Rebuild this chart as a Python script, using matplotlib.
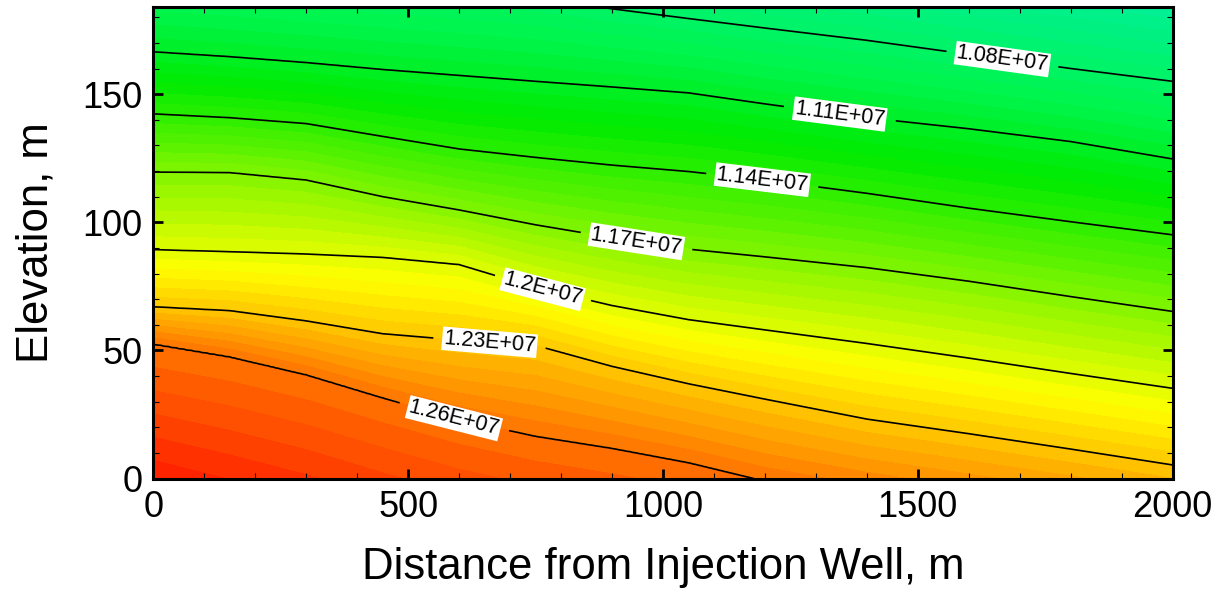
import numpy as np
import matplotlib.pyplot as plt
from matplotlib.colors import LinearSegmentedColormap, Normalize
from matplotlib.ticker import MultipleLocator

# distance stations (m) where the isobar elevations were picked
stations = [0, 150, 300, 450, 600, 750, 900, 1050, 1200, 1400, 1600, 1800, 2000]

# elevation (m) of each pressure isoline at the stations
p105 = [228, 226, 224, 222, 220, 217, 214, 210, 206, 201, 195, 190, 184]
p108 = [198, 196, 194, 192, 190, 187.5, 183.3, 179.5, 175.8, 171, 165.5, 160, 155]
p111 = [166.5, 164.6, 162.3, 159.6, 157.3, 155, 152.8, 150.5, 146.2, 140.8, 136.5, 131.5, 124.7]
p114 = [142.3, 140.8, 138.5, 133.5, 128.6, 125.3, 122.3, 119.8, 116.5, 111.3, 105.5, 100.2, 95.1]
p117 = [119.6, 119.4, 116.5, 110, 104.8, 99, 94, 89.5, 86.5, 82.3, 77, 71, 65.2]
p120 = [89.3, 88.5, 87.6, 86.3, 83.5, 74.5, 67.5, 62, 58, 52.7, 47, 41, 35.2]
p123 = [67, 65.5, 61.5, 56.5, 54, 52, 43.8, 37, 31, 23.2, 17.5, 11.5, 5.3]
p126 = [52.5, 47.5, 40.5, 31.5, 23, 16.5, 11.8, 6.2, -1, -8, -14, -20, -26]
p129 = [-2, -10, -18, -27, -35, -42, -48, -54, -60, -66, -72, -78, -84]

pressures = [1.05e7, 1.08e7, 1.11e7, 1.14e7, 1.17e7, 1.20e7, 1.23e7, 1.26e7, 1.29e7]
elevations = [p105, p108, p111, p114, p117, p120, p123, p126, p129]

# labelled contour levels and where along x their labels sit
line_levels = [1.08e7, 1.11e7, 1.14e7, 1.17e7, 1.20e7, 1.23e7, 1.26e7]
label_x = [1666, 1347, 1195, 948, 764, 660, 590]

# colour stops (pressure, rgb)
cmap_p = [1.05e7, 1.095e7, 1.125e7, 1.17e7, 1.21e7, 1.25e7, 1.29e7]
cmap_rgb = [(0, 240, 150), (0, 245, 75), (0, 235, 0), (130, 245, 0),
            (255, 255, 0), (255, 145, 0), (255, 30, 0)]

vmin, vmax = cmap_p[0], cmap_p[-1]
cmap = LinearSegmentedColormap.from_list(
    'pressure',
    [((p - vmin) / (vmax - vmin), tuple(c / 255 for c in rgb)) for p, rgb in zip(cmap_p, cmap_rgb)])

# build the pressure field column by column from the isoline elevations
xf = np.linspace(0, 2000, 401)
yf = np.linspace(0, 184, 369)
E = np.array([np.interp(xf, stations, e) for e in elevations])
P = np.empty((len(yf), len(xf)))
for j in range(len(xf)):
    P[:, j] = np.interp(yf, E[::-1, j], np.array(pressures)[::-1])

fig = plt.figure(figsize=(12.27, 5.94), dpi=100)
ax = fig.add_axes([0.1249, 0.1944, 0.8308, 0.7938])

fill_levels = np.arange(vmin, vmax + 1, 5e4)
ax.contourf(xf, yf, P, levels=fill_levels, cmap=cmap, norm=Normalize(vmin, vmax), extend='both')
cs = ax.contour(xf, yf, P, levels=line_levels, colors='k', linewidths=1.2)

positions = []
for lev, lx in zip(line_levels, label_x):
    e = elevations[pressures.index(lev)]
    positions.append((lx, np.interp(lx, stations, e)))

labels = ax.clabel(cs, fmt=lambda v: f"{v / 1e7:g}E+07", manual=positions,
                   fontsize=15.5, inline=True, inline_spacing=3)
for t in labels:
    t.set_family('Liberation Sans')
    t.set_bbox(dict(facecolor='white', edgecolor='none', pad=1.0))

ax.set_xlim(0, 2000)
ax.set_ylim(0, 184)
ax.xaxis.set_major_locator(MultipleLocator(500))
ax.xaxis.set_minor_locator(MultipleLocator(100))
ax.yaxis.set_major_locator(MultipleLocator(50))
ax.yaxis.set_minor_locator(MultipleLocator(10))
ax.tick_params(which='both', direction='in', top=True, right=True)
ax.tick_params(which='major', length=7, width=2, labelsize=26, pad=8)
ax.tick_params(which='minor', length=4, width=0.8)
for lab in ax.get_xticklabels() + ax.get_yticklabels():
    lab.set_family('Liberation Sans')
for s in ax.spines.values():
    s.set_linewidth(2.2)

ax.set_xlabel('Distance from Injection Well, m', fontsize=31.5, family='Liberation Sans', labelpad=16)
ax.set_ylabel('Elevation, m', fontsize=31.5, family='Liberation Sans', labelpad=18)

fig.savefig('out.png', dpi=100)
